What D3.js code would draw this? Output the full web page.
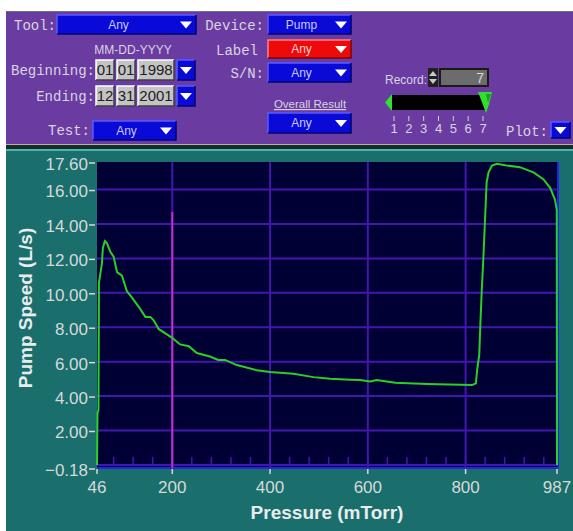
<!DOCTYPE html>
<html>
<head>
<meta charset="utf-8">
<script src="https://cdn.jsdelivr.net/npm/d3@7"></script>
<style>
  body { margin: 0; background: #fff; }
  svg { display: block; }
</style>
</head>
<body>
<script>
// pump speed curve
var pressure = [46, 47, 49, 50, 56, 58, 62, 66, 73, 80, 87, 97, 107, 118, 131, 145, 155, 162, 172, 199,
  216, 234, 250, 277, 294, 308, 332, 373, 400, 448, 489, 523, 564, 584, 605, 618, 656, 721, 813, 821,
  824, 828, 830, 833, 836, 840, 843, 847, 854, 864, 884, 911, 939, 959, 973, 983, 986.5, 987];
var speed = [0.0, 3.0, 3.2, 10.6, 11.7, 12.6, 13.0, 12.9, 12.4, 12.1, 11.2, 11.0, 10.1, 9.7, 9.2, 8.6, 8.6, 8.4, 7.9, 7.4,
  7.0, 6.9, 6.5, 6.3, 6.1, 6.1, 5.8, 5.5, 5.4, 5.3, 5.1, 5.0, 4.95, 4.93, 4.85, 4.93, 4.78, 4.70, 4.64, 4.74,
  5.6, 6.4, 8.0, 10.1, 11.8, 14.4, 16.4, 17.0, 17.4, 17.5, 17.4, 17.3, 17.0, 16.6, 16.1, 15.4, 14.8, 0.0];

var xTicks = [46, 200, 400, 600, 800, 987];
var xGrid = [200, 400, 600, 800];
var xMinor = d3.range(80, 987, 40);
var yTicks = [-0.18, 2, 4, 6, 8, 10, 12, 14, 16, 17.6];
var yGrid = [0, 2, 4, 6, 8, 10, 12, 14, 16];
var cursorPressure = 200, cursorTop = 14.7;
var recordLabels = [1, 2, 3, 4, 5, 6, 7];
var recordValue = 7;

var W = 573, H = 531;
var svg = d3.select("body").append("svg").attr("width", W).attr("height", H);

var purple = "#6a3ca2", teal = "#1a6e6c", lab = "#d8d4e0";
var mono = "'Liberation Mono', 'DejaVu Sans Mono', monospace";
var sans = "'Liberation Sans', Arial, sans-serif";

// ---------- top panel ----------
svg.append("rect").attr("x", 6).attr("y", 11).attr("width", W - 6).attr("height", 1).attr("fill", "#707070");
svg.append("rect").attr("x", 6).attr("y", 12).attr("width", W - 6).attr("height", 132).attr("fill", purple);
svg.append("rect").attr("x", 6).attr("y", 144).attr("width", W - 6).attr("height", 1).attr("fill", "#b0b0b0");
svg.append("rect").attr("x", 6).attr("y", 145).attr("width", W - 6).attr("height", 4).attr("fill", "#1c2c24");
svg.append("rect").attr("x", 6).attr("y", 149).attr("width", W - 6).attr("height", 2).attr("fill", "#46b8b4");

var panel = svg.append("g");

function monoLabel(txt, xr, yc) {
  panel.append("text").attr("x", xr).attr("y", yc).attr("dy", "0.35em")
    .attr("text-anchor", "end").attr("font-family", mono).attr("font-size", 14)
    .attr("fill", lab).text(txt);
}

function bevel(g, x, y, w, h, fill, light, dark) {
  g.append("rect").attr("x", x).attr("y", y).attr("width", w).attr("height", h).attr("fill", fill);
  g.append("path").attr("d", "M" + x + "," + (y + h) + "V" + y + "H" + (x + w))
    .attr("stroke", light).attr("stroke-width", 1.5).attr("fill", "none");
  g.append("path").attr("d", "M" + x + "," + (y + h) + "H" + (x + w) + "V" + y)
    .attr("stroke", dark).attr("stroke-width", 1.5).attr("fill", "none");
}

function arrow(g, cx, cy) {
  g.append("path").attr("d", "M" + (cx - 6) + "," + (cy - 3) + "H" + (cx + 6) + "L" + cx + "," + (cy + 4) + "Z")
    .attr("fill", "#fff");
}

function dropdown(x, y, w, h, txt, red) {
  var g = panel.append("g");
  bevel(g, x, y, w, h, red ? "#ee0a0a" : "#0a0ad8", red ? "#ff8080" : "#5a5aff", red ? "#800000" : "#000070");
  g.append("text").attr("x", x + (w - 16) / 2).attr("y", y + h / 2).attr("dy", "0.35em")
    .attr("text-anchor", "middle").attr("font-family", sans).attr("font-size", 12)
    .attr("fill", red ? "#ffd0d0" : "#c8c8ff").text(txt);
  arrow(g, x + w - 10, y + h / 2);
}

function arrowButton(x, y, w, h) {
  var g = panel.append("g");
  bevel(g, x, y, w, h, "#0a0ad8", "#5a5aff", "#000070");
  arrow(g, x + w / 2, y + h / 2);
}

function dateBox(x, y, w, h, txt) {
  var g = panel.append("g");
  bevel(g, x, y, w, h, "#c4c4c4", "#ffffff", "#404040");
  g.append("text").attr("x", x + w / 2).attr("y", y + h / 2).attr("dy", "0.36em")
    .attr("text-anchor", "middle").attr("font-family", sans).attr("font-size", 15)
    .attr("fill", "#202020").text(txt);
}

monoLabel("Tool:", 56, 25);
dropdown(57, 15, 139, 19, "Any");
monoLabel("Device:", 264, 25);
dropdown(268, 15, 83, 19, "Pump");

panel.append("text").attr("x", 133).attr("y", 50).attr("dy", "0.35em").attr("text-anchor", "middle")
  .attr("font-family", sans).attr("font-size", 12).attr("fill", lab).text("MM-DD-YYYY");
monoLabel("Label", 258, 50);
dropdown(268, 40, 83, 18, "Any", true);

monoLabel("Beginning:", 95, 70);
dateBox(96, 60, 18, 20, "01");
dateBox(117, 60, 18, 20, "01");
dateBox(138, 60, 36, 20, "1998");
arrowButton(177, 60, 18, 20);
monoLabel("S/N:", 264, 73);
dropdown(268, 63, 83, 19, "Any");

monoLabel("Ending:", 95, 96);
dateBox(96, 86, 18, 20, "12");
dateBox(117, 86, 18, 20, "31");
dateBox(138, 86, 36, 20, "2001");
arrowButton(177, 86, 18, 20);

panel.append("text").attr("x", 310).attr("y", 104).attr("dy", "0.35em").attr("text-anchor", "middle")
  .attr("font-family", sans).attr("font-size", 11.5).attr("fill", lab)
  .attr("text-decoration", "underline").text("Overall Result");
dropdown(268, 113, 83, 20, "Any");

monoLabel("Test:", 90, 130);
dropdown(93, 121, 83, 19, "Any");

// record widget
panel.append("text").attr("x", 427).attr("y", 80).attr("dy", "0.35em").attr("text-anchor", "end")
  .attr("font-family", sans).attr("font-size", 12).attr("fill", lab).text("Record:");
panel.append("rect").attr("x", 428).attr("y", 68).attr("width", 10).attr("height", 19).attr("fill", "#202020");
panel.append("path").attr("d", "M429,76L433,71L437,76Z M429,79L433,84L437,79Z").attr("fill", "#c8c8c8");
panel.append("rect").attr("x", 439).attr("y", 68).attr("width", 50).attr("height", 19).attr("fill", "#1a1a1a");
panel.append("rect").attr("x", 441).attr("y", 70).attr("width", 46).attr("height", 15).attr("fill", "#6c6c6c");
panel.append("text").attr("x", 484).attr("y", 78).attr("dy", "0.36em").attr("text-anchor", "end")
  .attr("font-family", sans).attr("font-size", 14).attr("fill", "#d8d8d8").text(recordValue);

var rec = d3.scalePoint().domain(recordLabels).range([394, 483]);
panel.append("rect").attr("x", 392).attr("y", 95).attr("width", 93).attr("height", 15).attr("fill", "#000");
panel.append("path").attr("d", "M392,94L385,102.5L392,111Z").attr("fill", "#30e030");
panel.append("path").attr("d", "M478,92H492L489,104L486,113L483,105Z").attr("fill", "#30e030");
panel.append("path").attr("d", "M486,94L491,94L488,103Z").attr("fill", "#18a018");
panel.selectAll(".rtick").data(recordLabels).enter().append("line")
  .attr("x1", function(d) { return rec(d); }).attr("x2", function(d) { return rec(d); })
  .attr("y1", 116).attr("y2", 121).attr("stroke", "#d0d0d0").attr("stroke-width", 1);
panel.selectAll(".rlab").data(recordLabels).enter().append("text")
  .attr("x", function(d) { return rec(d); }).attr("y", 128).attr("dy", "0.35em")
  .attr("text-anchor", "middle").attr("font-family", sans).attr("font-size", 13)
  .attr("fill", lab).text(function(d) { return d; });

monoLabel("Plot:", 548, 131);
arrowButton(551, 122, 19, 16);

// ---------- chart panel ----------
svg.append("rect").attr("x", 6).attr("y", 151).attr("width", W - 6).attr("height", H - 151).attr("fill", teal);

var x = d3.scaleLinear().domain([46, 987]).range([97, 557]);
var y = d3.scaleLinear().domain([-0.18, 17.6]).range([468, 162]);

var chart = svg.append("g");
chart.append("rect").attr("x", x(46)).attr("y", y(17.6))
  .attr("width", x(987) - x(46)).attr("height", y(-0.18) - y(17.6)).attr("fill", "#000034");

var gridCol = "#4416b0";
chart.selectAll(".hg").data(yGrid).enter().append("line")
  .attr("x1", x(46)).attr("x2", x(987))
  .attr("y1", function(d) { return y(d); }).attr("y2", function(d) { return y(d); })
  .attr("stroke", gridCol).attr("stroke-width", 2);
chart.selectAll(".vg").data(xGrid).enter().append("line")
  .attr("x1", function(d) { return x(d); }).attr("x2", function(d) { return x(d); })
  .attr("y1", y(17.6)).attr("y2", y(-0.18))
  .attr("stroke", gridCol).attr("stroke-width", 2);
chart.selectAll(".mt").data(xMinor).enter().append("line")
  .attr("x1", function(d) { return x(d); }).attr("x2", function(d) { return x(d); })
  .attr("y1", y(0) - 8).attr("y2", y(0))
  .attr("stroke", gridCol).attr("stroke-width", 1.5);

// frame: blue bottom and right edges
chart.append("line").attr("x1", x(46)).attr("x2", x(987) + 1).attr("y1", y(-0.18)).attr("y2", y(-0.18))
  .attr("stroke", "#2424e8").attr("stroke-width", 2);
chart.append("line").attr("x1", x(987) + 1).attr("x2", x(987) + 1).attr("y1", y(17.6)).attr("y2", y(-0.18))
  .attr("stroke", "#2424e8").attr("stroke-width", 2);

// cursor
chart.append("line").attr("x1", x(cursorPressure)).attr("x2", x(cursorPressure))
  .attr("y1", y(cursorTop)).attr("y2", y(-0.18))
  .attr("stroke", "#c82ccc").attr("stroke-width", 2);

// curve
var pts = pressure.map(function(p, i) { return [p, speed[i]]; });
chart.append("path").datum(pts)
  .attr("d", d3.line().x(function(d) { return x(d[0]); }).y(function(d) { return y(d[1]); }))
  .attr("fill", "none").attr("stroke", "#28d028").attr("stroke-width", 2);

// y axis ticks and labels
var axCol = "#d4dada";
chart.selectAll(".yt").data(yTicks).enter().append("line")
  .attr("x1", 89).attr("x2", 95)
  .attr("y1", function(d) { return y(d) + 1; }).attr("y2", function(d) { return y(d) + 1; })
  .attr("stroke", axCol).attr("stroke-width", 1.5);
chart.selectAll(".yl").data(yTicks).enter().append("text")
  .attr("x", 88).attr("y", function(d) { return y(d) + 2; }).attr("dy", "0.35em")
  .attr("text-anchor", "end").attr("font-family", sans).attr("font-size", 17)
  .attr("fill", axCol).text(d3.format(".2f"));

// x axis ticks and labels
chart.selectAll(".xt").data(xTicks).enter().append("line")
  .attr("x1", function(d) { return x(d); }).attr("x2", function(d) { return x(d); })
  .attr("y1", 469).attr("y2", 474).attr("stroke", axCol).attr("stroke-width", 1.5);
chart.selectAll(".xl").data(xTicks).enter().append("text")
  .attr("x", function(d) { return x(d); }).attr("y", 493)
  .attr("text-anchor", "middle").attr("font-family", sans).attr("font-size", 17)
  .attr("fill", axCol).text(function(d) { return d; });

chart.append("text").attr("x", (x(46) + x(987)) / 2).attr("y", 519)
  .attr("text-anchor", "middle").attr("font-family", sans).attr("font-weight", "bold")
  .attr("font-size", 19).attr("fill", "#e8ecec").text("Pressure (mTorr)");
chart.append("text").attr("transform", "translate(32," + 308 + ") rotate(-90)")
  .attr("text-anchor", "middle").attr("font-family", sans).attr("font-weight", "bold")
  .attr("font-size", 19).attr("fill", "#e8ecec").text("Pump Speed (L/s)");
</script>
</body>
</html>
